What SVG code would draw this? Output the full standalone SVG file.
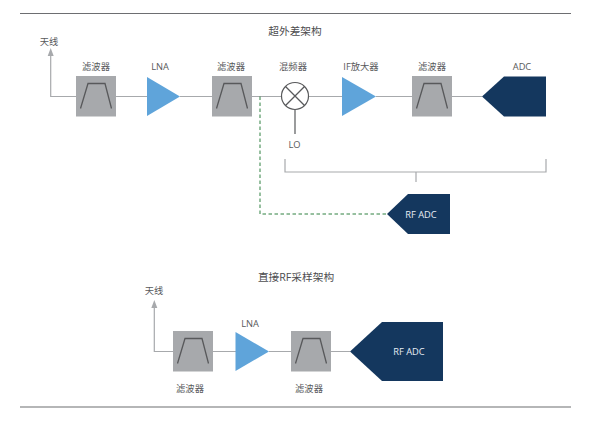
<svg xmlns="http://www.w3.org/2000/svg" width="601" height="421" viewBox="0 0 601 421">
<style>
text{font-family:"Open Sans","Noto Sans CJK SC",sans-serif;font-size:9.300px;fill:#58595b;text-anchor:middle}
.t{font-size:10.700px;fill:#4d4d4f}
.w{fill:#e8eef5}
.c{fill:none;stroke:#a7a9ac;stroke-width:1.200}
.f{fill:#a7a9ac}
.g{fill:none;stroke:#58595b;stroke-width:1.300}
.a{fill:#5fa4da}
.n{fill:#14375e}
.h{fill:#a7a9ac}
</style>
<defs>
<g id="flt"><rect class="f" width="40" height="40.500"/><path class="g" d="M4.500 32.500L12 7.500H29L35.500 32.500"/></g>
</defs>
<rect width="601" height="421" fill="#fff"/>
<g id="connectors">
<path d="M20 13.500H571M20 407H571" fill="none" stroke="#6d6e71" stroke-width="1.200"/>
<path class="c" d="M76 96.500H50.700V54"/>
<path class="h" d="M50.700 48L53.700 56H47.700Z"/>
<path class="c" d="M116 96.500H147M180 96.500H212M252 96.500H282M308.500 96.500H342M376 96.500H412M452 96.500H482"/>
<path d="M295 110V134" fill="none" stroke="#58595b" stroke-width="1.200"/>
<path class="c" d="M285 159V172H546V159M416 172V182"/>
<path d="M260 96.500V214H387" fill="none" stroke="#2f8040" stroke-width="1" stroke-dasharray="3.500 2.500"/>
<path class="c" d="M173 351.500H154.300V306"/>
<path class="h" d="M154.300 300L157.300 308H151.300Z"/>
<path class="c" d="M213 351.500H236M269 351.500H291M331 351.500H350"/>
</g>
<g id="title1"><text class="t" x="295" y="35">超外差架构</text></g>
<g id="antenna1"><text x="49" y="45">天线</text></g>
<g id="filter1"><use href="#flt" x="76" y="76"/><text x="96" y="70">滤波器</text></g>
<g id="lna1"><path class="a" d="M147 77L180 96.500L147 116Z"/><text x="160" y="70">LNA</text></g>
<g id="filter2"><use href="#flt" x="212" y="76"/><text x="231" y="70">滤波器</text></g>
<g id="mixer"><circle cx="295" cy="96" r="13.500" fill="#fff" stroke="#58595b" stroke-width="1.200"/><path class="g" d="M285.500 86.500L304.500 105.500M304.500 86.500L285.500 105.500"/><text x="293" y="70">混频器</text><text x="294.500" y="148">LO</text></g>
<g id="if-amp"><path class="a" d="M342 77L376 96.500L342 116Z"/><text x="361" y="70">IF放大器</text></g>
<g id="filter3"><use href="#flt" x="412" y="76"/><text x="432" y="70">滤波器</text></g>
<g id="adc"><path class="n" d="M482 96.500L504 76.500H546V116.500H504Z"/><text x="522" y="70">ADC</text></g>
<g id="rfadc1"><path class="n" d="M387 214L408 194H450V234H408Z"/><text class="w" x="421" y="218">RF ADC</text></g>
<g id="title2"><text class="t" x="296" y="281">直接RF采样架构</text></g>
<g id="antenna2"><text x="154" y="294">天线</text></g>
<g id="filter4"><use href="#flt" x="173" y="331"/><text x="190" y="392">滤波器</text></g>
<g id="lna2"><path class="a" d="M235.500 332L269 351.500L235.500 371Z"/><text x="250" y="327">LNA</text></g>
<g id="filter5"><use href="#flt" x="291" y="331"/><text x="309" y="392">滤波器</text></g>
<g id="rfadc2"><path class="n" d="M350 351.500L382 322H443V381H382Z"/><text class="w" x="409" y="355">RF ADC</text></g>
</svg>
